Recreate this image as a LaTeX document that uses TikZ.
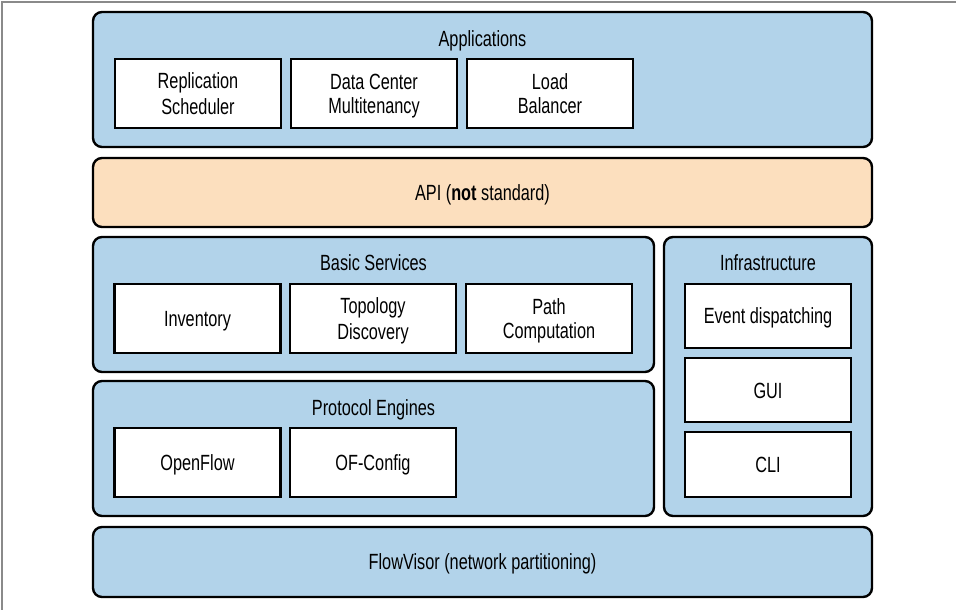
\documentclass[tikz,border=0pt]{standalone}
\usepackage{fontspec}
\setmainfont{Liberation Sans}[FakeStretch=0.74]
\definecolor{layerblue}{HTML}{B2D3EA}
\definecolor{apiorange}{HTML}{FCDFBE}
\definecolor{framegray}{HTML}{8A8A8A}
\newcommand\mystrut{\rule[-4pt]{0pt}{24pt}}
\begin{document}
\begin{tikzpicture}[x=1pt,y=-1pt,
  every node/.style={font=\fontsize{22}{24}\selectfont, align=center, inner sep=0pt},
  layer/.style={draw=black, line width=2.4pt, rounded corners=9pt, fill=layerblue},
  apilayer/.style={layer, fill=apiorange},
  compbox/.style={draw=black, line width=2.4pt, fill=white},
  ttl/.style={}]
\useasboundingbox (0,0) rectangle (956,610);
\draw[framegray, line width=1.2pt] (2,610) -- (2,2) -- (956,2);
% Applications
\node[layer, minimum width=779pt, minimum height=135pt] (apps) at (482.5,79.5) {};
\node[ttl] (appsT) at (482.5,38.5) {Applications\mystrut};
\node[compbox, minimum width=166pt, minimum height=69pt] (repl) at (198,93.5) {Replication\mystrut\\Scheduler\mystrut};
\node[compbox, minimum width=166pt, minimum height=69pt] (dc) at (374,93.5) {Data Center\mystrut\\Multitenancy\mystrut};
\node[compbox, minimum width=166pt, minimum height=69pt] (lb) at (550,93.5) {Load\mystrut\\Balancer\mystrut};
% API
\node[apilayer, minimum width=779pt, minimum height=69pt] (api) at (482.5,192.5) {API (\textbf{not} standard)\mystrut};
% Basic Services
\node[layer, minimum width=561pt, minimum height=135pt] (basic) at (373.5,304.5) {};
\node[ttl] (basicT) at (373.5,262.5) {Basic Services\mystrut};
\node[compbox, minimum width=166pt, minimum height=69pt] (inv) at (197.5,318.5) {Inventory\mystrut};
\node[compbox, minimum width=166pt, minimum height=69pt] (topo) at (373,318.5) {Topology\mystrut\\Discovery\mystrut};
\node[compbox, minimum width=166pt, minimum height=69pt] (path) at (549,318.5) {Path\mystrut\\Computation\mystrut};
% Protocol Engines
\node[layer, minimum width=561pt, minimum height=135pt] (proto) at (373.5,448.5) {};
\node[ttl] (protoT) at (373.5,407.5) {Protocol Engines\mystrut};
\node[compbox, minimum width=166pt, minimum height=69pt] (of) at (197.5,462.5) {OpenFlow\mystrut};
\node[compbox, minimum width=166pt, minimum height=69pt] (ofc) at (373,462.5) {OF-Config\mystrut};
% Infrastructure
\node[layer, minimum width=208pt, minimum height=279pt] (infra) at (768,376.5) {};
\node[ttl] (infraT) at (768,262.5) {Infrastructure\mystrut};
\node[compbox, minimum width=166pt, minimum height=64pt] (ev) at (768,316) {Event dispatching\mystrut};
\node[compbox, minimum width=166pt, minimum height=64pt] (gui) at (768,390) {GUI\mystrut};
\node[compbox, minimum width=166pt, minimum height=65pt] (cli) at (768,464.5) {CLI\mystrut};
% FlowVisor
\node[layer, minimum width=779pt, minimum height=70pt] (fv) at (482.5,562) {FlowVisor (network partitioning)\mystrut};
\end{tikzpicture}
\end{document}
